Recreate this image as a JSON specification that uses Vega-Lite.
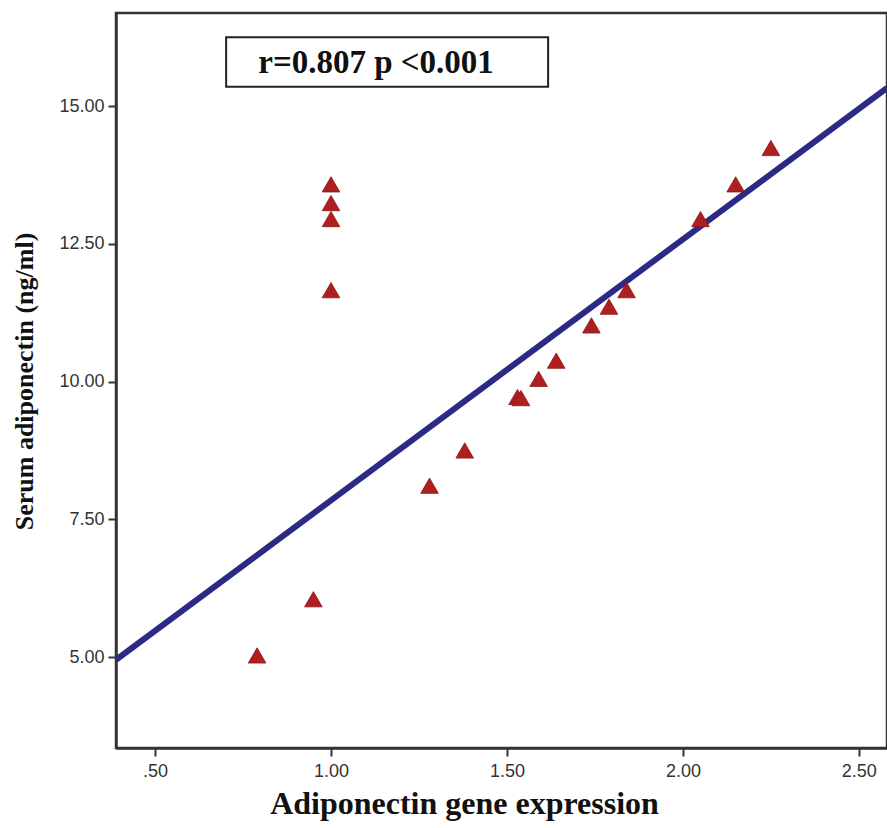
{
  "$schema": "https://vega.github.io/schema/vega-lite/v6.json",
  "autosize": "none",
  "width": 771,
  "height": 735,
  "padding": {"left": 116, "top": 13, "right": 0, "bottom": 80},
  "background": "white",
  "config": {
    "view": {"stroke": "#333333", "strokeWidth": 2.5},
    "axis": {"grid": false}
  },
  "datasets": {
    "points": [
      {"expr": 0.79, "adipo": 5.03},
      {"expr": 0.95, "adipo": 6.05},
      {"expr": 1.0, "adipo": 13.58},
      {"expr": 1.0, "adipo": 13.24},
      {"expr": 1.0, "adipo": 12.95},
      {"expr": 1.0, "adipo": 11.66},
      {"expr": 1.28, "adipo": 8.11},
      {"expr": 1.38, "adipo": 8.75},
      {"expr": 1.53, "adipo": 9.72},
      {"expr": 1.54, "adipo": 9.7},
      {"expr": 1.59, "adipo": 10.05},
      {"expr": 1.64, "adipo": 10.38},
      {"expr": 1.74, "adipo": 11.02},
      {"expr": 1.79, "adipo": 11.36},
      {"expr": 1.84, "adipo": 11.66},
      {"expr": 2.05, "adipo": 12.95},
      {"expr": 2.15, "adipo": 13.58},
      {"expr": 2.25, "adipo": 14.24}
    ],
    "fit": [
      {"expr": 0.389, "adipo": 4.95},
      {"expr": 2.58, "adipo": 15.33}
    ],
    "note": [
      {"label": "r=0.807 p <0.001"}
    ]
  },
  "layer": [
    {
      "data": {"name": "fit"},
      "mark": {"type": "line", "color": "#2b2a85", "strokeWidth": 6, "clip": true},
      "encoding": {
        "x": {
          "field": "expr", "type": "quantitative",
          "scale": {"domain": [0.389, 2.58], "nice": false, "zero": false},
          "axis": {
            "title": "Adiponectin gene expression",
            "values": [0.5, 1.0, 1.5, 2.0, 2.5],
            "labelExpr": "replace(format(datum.value, '.2f'), /^0/, '')",
            "labelFont": "Liberation Sans", "labelFontSize": 18, "labelColor": "#333333",
            "labelPadding": 6,
            "tickSize": 8, "tickWidth": 2, "tickColor": "#333333",
            "domainColor": "#333333", "domainWidth": 2.5,
            "titleFont": "Liberation Serif", "titleFontWeight": "bold", "titleFontSize": 32,
            "titleColor": "#111111",
            "titleX": 348, "titleY": 65, "titleBaseline": "alphabetic", "titleAnchor": "middle"
          }
        },
        "y": {
          "field": "adipo", "type": "quantitative",
          "scale": {"domain": [3.35, 16.69], "nice": false, "zero": false},
          "axis": {
            "title": "Serum adiponectin (ng/ml)",
            "values": [5, 7.5, 10, 12.5, 15],
            "format": ".2f",
            "labelFont": "Liberation Sans", "labelFontSize": 18, "labelColor": "#333333",
            "labelPadding": 4,
            "tickSize": 8, "tickWidth": 2, "tickColor": "#333333",
            "domainColor": "#333333", "domainWidth": 2.5,
            "titleFont": "Liberation Serif", "titleFontWeight": "bold", "titleFontSize": 26,
            "titleColor": "#111111",
            "titleX": -92, "titleY": 368, "titleBaseline": "middle", "titleAngle": -90, "titleAnchor": "middle"
          }
        }
      }
    },
    {
      "data": {"name": "points"},
      "mark": {"type": "point", "shape": "triangle-up", "filled": true, "size": 310, "color": "#b01f1f", "stroke": "#8a1414", "strokeWidth": 0.8, "opacity": 1},
      "encoding": {
        "x": {"field": "expr", "type": "quantitative"},
        "y": {"field": "adipo", "type": "quantitative"}
      }
    },
    {
      "data": {"name": "note"},
      "mark": {"type": "rect", "fill": "white", "stroke": "#222222", "strokeWidth": 2},
      "encoding": {
        "x": {"datum": 0.702, "type": "quantitative"},
        "x2": {"datum": 1.617},
        "y": {"datum": 16.25, "type": "quantitative"},
        "y2": {"datum": 15.35}
      }
    },
    {
      "data": {"name": "note"},
      "mark": {"type": "text", "font": "Liberation Serif", "fontWeight": "bold", "fontSize": 33, "color": "#111111", "align": "center", "baseline": "alphabetic"},
      "encoding": {
        "text": {"field": "label"},
        "x": {"datum": 1.128, "type": "quantitative"},
        "y": {"datum": 15.6, "type": "quantitative"}
      }
    }
  ]
}
